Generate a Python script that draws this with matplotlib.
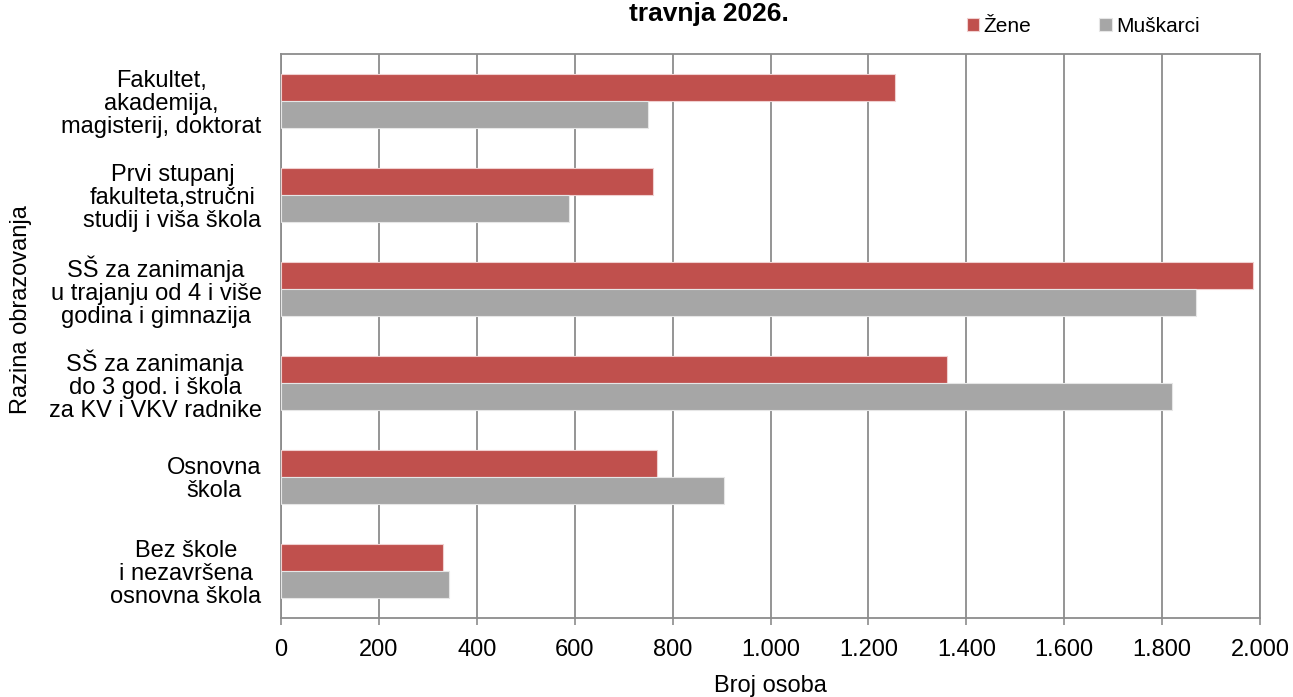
import matplotlib.pyplot as plt
import numpy as np

plt.rcParams['font.family'] = ['Liberation Sans', 'DejaVu Sans']

# kategorije od vrha prema dnu
kategorije = [
    "Fakultet,\nakademija,\nmagisterij, doktorat",
    "Prvi stupanj\nfakulteta,stručni\nstudij i viša škola",
    "SŠ za zanimanja\nu trajanju od 4 i više\ngodina i gimnazija",
    "SŠ za zanimanja\ndo 3 god. i škola\nza KV i VKV radnike",
    "Osnovna\nškola",
    "Bez škole\ni nezavršena\nosnovna škola",
]
zene = [1255, 760, 1985, 1361, 769, 331]
muskarci = [749, 588, 1870, 1820, 906, 343]
x_ticks = [0, 200, 400, 600, 800, 1000, 1200, 1400, 1600, 1800, 2000]
x_tick_labels = ["0", "200", "400", "600", "800", "1.000", "1.200", "1.400", "1.600", "1.800", "2.000"]

crvena = "#C0504D"
siva = "#A6A6A6"
linija = "#8C8C8C"

fig = plt.figure(figsize=(12.93, 6.97), dpi=100)
ax = fig.add_axes([281 / 1293, 1 - 618 / 697, (1260 - 281) / 1293, (618 - 54) / 697])

y = np.arange(len(kategorije))
h = 0.285
ax.barh(y - h / 2, zene, height=h, color=crvena, edgecolor="#F0D0D0", linewidth=0.8, label="Žene", zorder=3)
ax.barh(y + h / 2, muskarci, height=h, color=siva, edgecolor="#E6E6E6", linewidth=0.8, label="Muškarci", zorder=3)

ax.set_ylim(len(kategorije) - 0.5, -0.5)
ax.set_xlim(0, 2000)
ax.set_xticks(x_ticks)
ax.set_xticklabels(x_tick_labels, fontsize=17)
ax.set_yticks(y)
ax.set_yticklabels(kategorije, fontsize=17, multialignment="center", linespacing=1.05)
ax.tick_params(axis="y", length=0, pad=14)
ax.tick_params(axis="x", length=5, color=linija, width=1.2, pad=10)

ax.grid(axis="x", color=linija, linewidth=1.3, zorder=0)
for s in ax.spines.values():
    s.set_color(linija)
    s.set_linewidth(1.3)

ax.set_xlabel("Broj osoba", fontsize=17, va="center")
ax.xaxis.set_label_coords(0.5, (618 - 686) / 564)
ax.set_ylabel("Razina obrazovanja", fontsize=17, va="center")
ax.yaxis.set_label_coords((21 - 281) / 979, (618 - 310) / 564)

# naslov (gornji dio je odrezan u originalu)
fig.text(709 / 1293, 1 - 21 / 697, "travnja 2026.", fontsize=19, fontweight="bold", ha="center", va="baseline")

ax.legend(loc="center left", bbox_to_anchor=(967 / 1293, 1 - 26 / 697), bbox_transform=fig.transFigure,
          ncol=2, frameon=False, fontsize=15, handlelength=0.6, handleheight=0.6, handletextpad=0.2,
          columnspacing=3.25, borderaxespad=0, borderpad=0)

fig.savefig("out.png", dpi=100)
